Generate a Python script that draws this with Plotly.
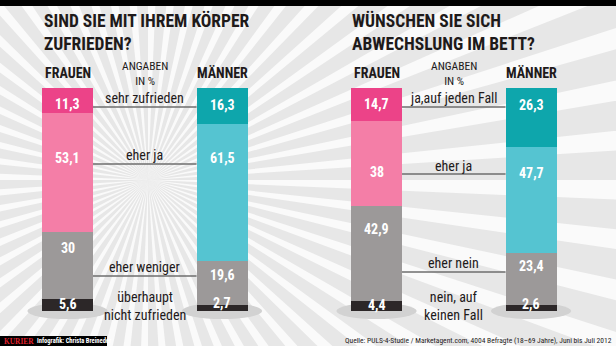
import math
import plotly.graph_objects as go

W, H = 616, 346

# ---------------- data ----------------
groups = ["FRAUEN", "MÄNNER"]

c1_title = ["SIND SIE MIT IHREM KÖRPER", "ZUFRIEDEN?"]
c1_cats = ["sehr zufrieden", "eher ja", "eher weniger", "überhaupt<br>nicht zufrieden"]
c1_frauen = [11.3, 53.1, 30, 5.6]
c1_maenner = [16.3, 61.5, 19.6, 2.7]

c2_title = ["WÜNSCHEN SIE SICH", "ABWECHSLUNG IM BETT?"]
c2_cats = ["ja,auf jeden Fall", "eher ja", "eher nein", "nein, auf<br>keinen Fall"]
c2_frauen = [14.7, 38, 42.9, 4.4]
c2_maenner = [26.3, 47.7, 23.4, 2.6]

unit_note = "ANGABEN<br>IN %"
source = "Quelle: PULS-4-Studie / Marketagent.com, 4004 Befragte (18–69 Jahre), Juni bis Juli 2012"
credit = "Infografik: Christa Breineder"
logo = "KURIER"

# ---------------- style ----------------
F_COL = ["#ec4388", "#f47ea7", "#9c9999", "#2c2728"]
M_COL = ["#0ea6ac", "#55c4d1", "#9c9999", "#2c2728"]
BG = "#e7e7e7"
RAY = "#fafafa"
FN = "Liberation Sans Narrow, Arial Narrow, Roboto Condensed, sans-serif"
TXT = "#1e1a1a"

def py(p):  # pixel y -> paper y
    return 1 - p / H

def px(p):
    return p / W

def fmt(v):
    s = ("%g" % v)
    return s.replace(".", ",")

fig = go.Figure()

x_pos = [0, 1, 2, 3]
bar_w = 0.33
for i in range(3, -1, -1):
    fig.add_trace(go.Bar(
        x=x_pos,
        y=[c1_frauen[i], c1_maenner[i], c2_frauen[i], c2_maenner[i]],
        width=bar_w,
        marker=dict(color=[F_COL[i], M_COL[i], F_COL[i], M_COL[i]], line=dict(width=0)),
        hoverinfo="skip",
        showlegend=False,
    ))

shapes = []
# sunburst background rays
cx, cy = 148, 180
N = 60
R = 1200
path = ""
for k in range(N):
    a0 = 2 * math.pi * k / N
    a1 = a0 + 2 * math.pi / N * 0.4
    x0, y0 = cx + R * math.cos(a0), cy + R * math.sin(a0)
    x1, y1 = cx + R * math.cos(a1), cy + R * math.sin(a1)
    path += "M%.4f,%.4f L%.4f,%.4f L%.4f,%.4f Z " % (px(cx), py(cy), px(x0), py(y0), px(x1), py(y1))
shapes.append(dict(type="path", xref="paper", yref="paper", path=path,
                   fillcolor=RAY, line=dict(width=0), layer="below"))

# shadows under bars
for xi in x_pos:
    shapes.append(dict(type="circle", xref="x", yref="paper", x0=xi - 0.26, x1=xi + 0.26,
                       y0=py(319), y1=py(303), fillcolor="#d2d2d2", line=dict(width=0), layer="below"))

# top black band
shapes.append(dict(type="rect", xref="paper", yref="paper", x0=0, x1=1, y0=py(6), y1=1.01,
                   fillcolor="#000000", line=dict(width=0)))
# logo box
shapes.append(dict(type="rect", xref="paper", yref="paper", x0=0, x1=px(107), y0=-0.01, y1=py(336),
                   fillcolor="#000000", line=dict(width=0)))

# connector lines
line_y = [[107, 164, 276], [107, 174, 272]]
for c in range(2):
    for ly in line_y[c]:
        shapes.append(dict(type="line", xref="x", yref="paper",
                           x0=2 * c + bar_w / 2, x1=2 * c + 1 - bar_w / 2, y0=py(ly), y1=py(ly),
                           line=dict(color="#6e6e6e", width=1.5)))

ann = []
# titles
title_x = [42, 350]
for c, tl in enumerate([c1_title, c2_title]):
    ann.append(dict(text="<br>".join("<b>%s</b>" % t for t in tl), x=px(title_x[c]), y=py(32),
                    xref="paper", yref="paper", xanchor="left", yanchor="middle", align="left",
                    showarrow=False, font=dict(family=FN, size=17.5, color=TXT)))
# group headers
for xi in x_pos:
    ann.append(dict(text="<b>%s</b>" % groups[xi % 2], x=xi, y=py(73), xref="x", yref="paper",
                    xanchor="center", yanchor="middle", showarrow=False,
                    font=dict(family=FN, size=14, color=TXT)))
# unit notes
for c in range(2):
    ann.append(dict(text=unit_note, x=2 * c + 0.5, y=py(74), xref="x", yref="paper",
                    xanchor="center", yanchor="middle", showarrow=False,
                    font=dict(family=FN, size=11.5, color=TXT)))

# category labels
cat_y = [[98, 155, 267, 306], [98, 166, 263, 306]]
for c, cats in enumerate([c1_cats, c2_cats]):
    for j, t in enumerate(cats):
        ann.append(dict(text=t, x=2 * c + 0.5, y=py(cat_y[c][j]), xref="x", yref="paper",
                        xanchor="center", yanchor="middle", showarrow=False,
                        font=dict(family=FN, size=14, color=TXT)))

# value labels
val_y = {
    0: [104, 158, 248, 304],
    1: [105, 158, 275, 303],
    2: [104, 172, 229, 305],
    3: [105, 173, 266, 304],
}
series = [c1_frauen, c1_maenner, c2_frauen, c2_maenner]
for xi in x_pos:
    for j, v in enumerate(series[xi]):
        ann.append(dict(text="<b>%s</b>" % fmt(v), x=xi, y=py(val_y[xi][j]), xref="x", yref="paper",
                        xanchor="center", yanchor="middle", showarrow=False,
                        font=dict(family=FN, size=14, color="#ffffff")))

# footer
ann.append(dict(text=source, x=px(614), y=py(340), xref="paper", yref="paper",
                xanchor="right", yanchor="middle", showarrow=False,
                font=dict(family=FN, size=7.5, color=TXT)))
ann.append(dict(text="<b>%s</b>" % logo, x=px(2), y=py(341), xref="paper", yref="paper",
                xanchor="left", yanchor="middle", showarrow=False,
                font=dict(family="Liberation Serif, serif", size=7.4, color="#e0202e")))
ann.append(dict(text="<b>%s</b>" % credit, x=px(35), y=py(341), xref="paper", yref="paper",
                xanchor="left", yanchor="middle", showarrow=False,
                font=dict(family=FN, size=6.5, color="#ffffff")))

fig.update_layout(
    width=W, height=H,
    margin=dict(l=0, r=0, t=0, b=0),
    paper_bgcolor=BG, plot_bgcolor="rgba(0,0,0,0)",
    barmode="stack", bargap=0,
    xaxis=dict(range=[-0.437, 3.550], visible=False, fixedrange=True),
    yaxis=dict(range=[0, 100], domain=[py(311), py(88)], visible=False, fixedrange=True),
    shapes=shapes, annotations=ann,
)

fig.write_html("out.html")
